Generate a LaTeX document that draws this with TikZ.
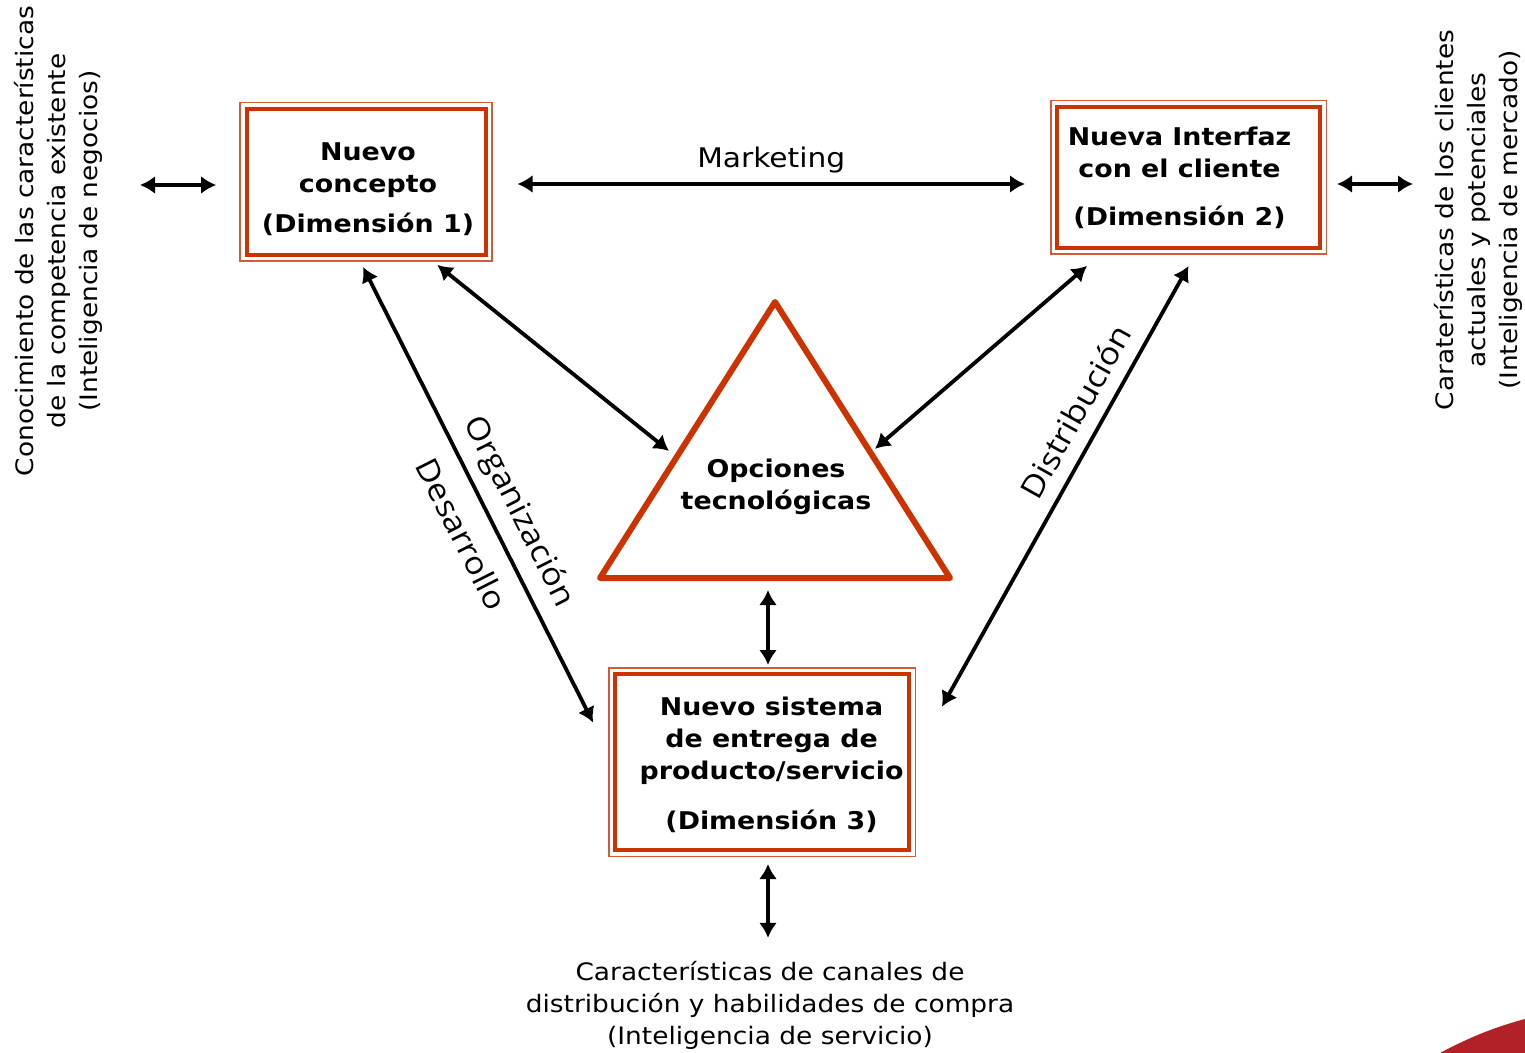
\documentclass[tikz,border=0pt]{standalone}
\usepackage{fontspec}
\setmainfont{DejaVu Sans}[FakeStretch=1.1]
\newfontfamily\labelfont{Open Sans}[FakeStretch=1.1]
\usetikzlibrary{arrows.meta,calc}
\definecolor{dimred}{RGB}{204,51,0}
\definecolor{framered}{RGB}{214,90,50}
\definecolor{cornerred}{RGB}{178,32,40}
\tikzset{
  dimbox/.style={draw=dimred, line width=2pt, inner sep=0pt},
  boxtext/.style={align=center, font=\bfseries\fontsize{12.2}{16}\selectfont},
  dimframe/.style={draw=framered, line width=0.9pt},
  dbl/.style={line width=1.9pt, {Latex[length=7.5pt,width=9pt]}-{Latex[length=7.5pt,width=9pt]}},
  side/.style={align=center, font=\fontsize{12}{16}\selectfont},
  flowlabel/.style={font=\labelfont\fontsize{15.5}{18}\selectfont},
}
\begin{document}
\begin{tikzpicture}[x=0.5pt,y=-0.5pt]
\useasboundingbox (0,0) rectangle (1525,1053);
\node[dimbox, minimum width=119.5pt, minimum height=73pt,
  label={[boxtext, xshift=1pt, yshift=-3.75pt]center:{Nuevo\\concepto\\[4pt](Dimensión 1)}}] (concepto) at (366,182) {};
\node[dimbox, minimum width=131.5pt, minimum height=70.5pt,
  label={[boxtext, xshift=-4.5pt]center:{Nueva Interfaz\\con el cliente\\[8pt](Dimensión 2)}}] (interfaz) at (1188.5,177.5) {};
\node[dimbox, minimum width=147pt, minimum height=88pt,
  label={[boxtext, xshift=4.75pt, yshift=-1.5pt]center:{Nuevo sistema\\de entrega de\\producto/servicio\\[9pt](Dimensión 3)}}] (entrega) at (762,762) {};
\foreach \b in {concepto,interfaz,entrega}
  \draw[dimframe] ([shift={(-2.2pt,2.2pt)}]\b.north west) rectangle ([shift={(2.2pt,-2.2pt)}]\b.south east);
\node[side, rotate=90] (negocios) at (58,241) {Conocimiento de las características\\de la competencia existente\\(Inteligencia de negocios)};
\node[side, rotate=90] (mercado) at (1478,220) {Caraterísticas de los clientes\\actuales y potenciales\\(Inteligencia de mercado)};
\node[side] (servicio) at (770,1005) {Características de canales de\\distribución y habilidades de compra\\(Inteligencia de servicio)};
\coordinate (apex) at (775,302);
\coordinate (bl) at (600,578);
\coordinate (br) at (950,578);
\draw[dimred, line width=3pt, line join=round] (apex) -- (bl) -- (br) -- cycle;
\node[boxtext] (opciones) at (776,487) {Opciones\\tecnológicas};
\coordinate (negocios-in) at (140,185);
\coordinate (mercado-in) at (1413,184);
\coordinate (base-mid) at ($(bl)!0.48!(br)$);
\draw[dbl, shorten >=14.2pt] (negocios-in) -- (negocios-in -| concepto.west);
\draw[dbl, shorten <=15pt, shorten >=15pt] ([yshift=-1pt]concepto.east) -- ([yshift=-1pt]concepto.east -| interfaz.west)
  node[midway, above=1pt, font=\fontsize{13.5}{16}\selectfont] {Marketing};
\draw[dbl, shorten <=7.5pt] (interfaz.east |- mercado-in) -- (mercado-in);
\draw[dbl, shorten <=6.3pt, shorten >=4.9pt] ([xshift=30.75pt]concepto.south) -- ($(apex)!0.562!(bl)$);
\draw[dbl, shorten <=12.2pt, shorten >=2.9pt] ([xshift=-41.5pt]interfaz.south) -- ($(apex)!0.546!(br)$);
\draw[dbl, shorten <=5.6pt, shorten >=22.1pt] ([xshift=-4pt]concepto.south) -- (entrega.west)
  node[flowlabel, pos=0.53, sloped, above=2pt] {Organización}
  node[flowlabel, pos=0.52, sloped, below=5.8pt] {Desarrollo};
\draw[dbl, shorten <=9.2pt, shorten >=31.7pt] ([xshift=4.5pt]interfaz.south) -- (entrega.east)
  node[flowlabel, pos=0.342, sloped, above=3.5pt] {Distribución};
\draw[dbl, shorten <=6pt, shorten >=3.5pt] (base-mid) -- (base-mid |- entrega.north);
\draw[dbl, shorten <=6pt, shorten >=8pt] (base-mid |- entrega.south) -- (base-mid |- servicio.north);
\fill[cornerred] (1440,1053) .. controls (1470,1037) and (1495,1027) .. (1525,1019) -- (1525,1053) -- cycle;
\end{tikzpicture}
\end{document}
